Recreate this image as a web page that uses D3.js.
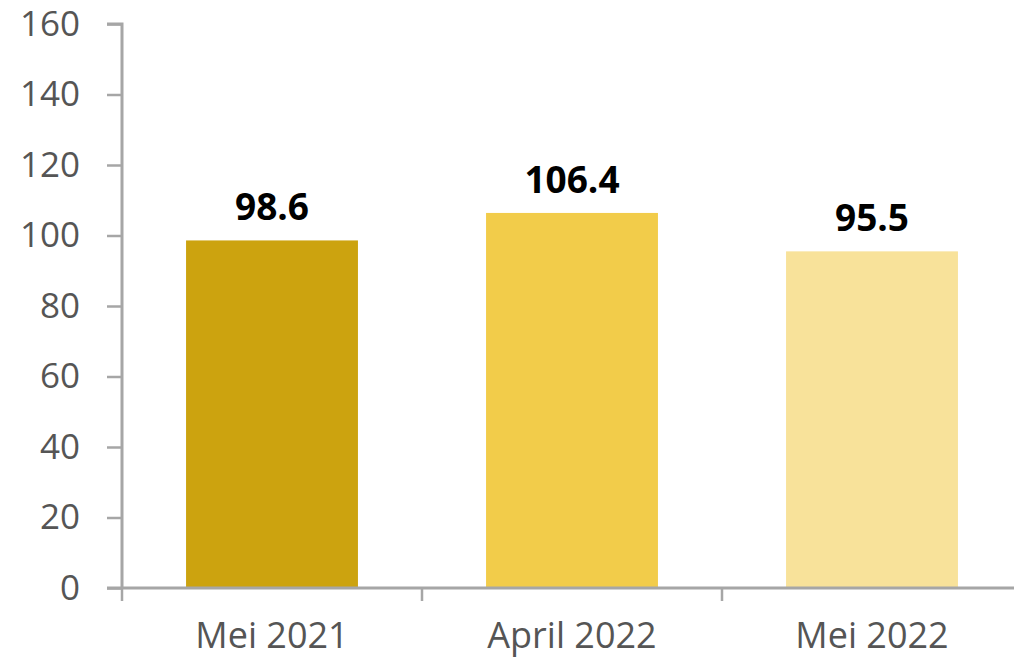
<!DOCTYPE html>
<html><head><meta charset="utf-8">
<script src="https://cdn.jsdelivr.net/npm/d3@7/dist/d3.min.js"></script>
<style>html,body{margin:0;padding:0;background:#fff;}svg{display:block;}</style>
</head><body>
<svg id="chart" width="1014" height="660"></svg>
<script>
const categories = ["Mei 2021", "April 2022", "Mei 2022"];
const values = [98.6, 106.4, 95.5];
const labels = ["98.6", "106.4", "95.5"];
const colors = ["#CCA30F", "#F2CC4A", "#F8E29A"];
const yTicks = [0, 20, 40, 60, 80, 100, 120, 140, 160];

const svg = d3.select("#chart");
const x = d3.scaleBand().domain(categories).range([122, 1022]).paddingInner(0.427).paddingOuter(0.2135);
const y = d3.scaleLinear().domain([0, 160]).range([588, 24]);
const font = "'Open Sans', sans-serif";

svg.selectAll("rect.bar").data(values).join("rect")
  .attr("class", "bar")
  .attr("x", (d, i) => x(categories[i]))
  .attr("width", x.bandwidth())
  .attr("y", d => y(d))
  .attr("height", d => y(0) - y(d))
  .attr("fill", (d, i) => colors[i]);

// y axis
const yAxis = svg.append("g").attr("transform", "translate(122,0)")
  .call(d3.axisLeft(y).tickValues(yTicks).tickSize(15).tickPadding(27));
yAxis.select(".domain").attr("stroke", "#A6A6A6").attr("stroke-width", 3).attr("d", `M-15,${y(160)}H0V${y(0)}`);
yAxis.selectAll(".tick line").attr("stroke", "#A6A6A6").attr("stroke-width", 2.5);
yAxis.selectAll(".tick text").attr("fill", "#555555").style("font-family", font).style("font-size", "35px");

// x axis
const xBounds = d3.scaleLinear().domain([0, categories.length]).range([122, 1022]);
const xg = svg.append("g").attr("transform", `translate(0,${y(0)})`);
xg.append("line").attr("x1", 107).attr("x2", 1014).attr("y1", 0).attr("y2", 0)
  .attr("stroke", "#A6A6A6").attr("stroke-width", 3);
xg.selectAll("line.tk").data(d3.range(categories.length + 1)).join("line")
  .attr("class", "tk")
  .attr("x1", d => xBounds(d)).attr("x2", d => xBounds(d))
  .attr("y1", 0).attr("y2", 13)
  .attr("stroke", "#A6A6A6").attr("stroke-width", 2.5);
xg.selectAll("text").data(categories).join("text")
  .attr("x", d => x(d) + x.bandwidth() / 2)
  .attr("y", 60)
  .attr("text-anchor", "middle")
  .attr("fill", "#555555")
  .style("font-family", font).style("font-size", "36px")
  .text(d => d);

// value labels
svg.selectAll("text.val").data(values).join("text")
  .attr("class", "val")
  .attr("x", (d, i) => x(categories[i]) + x.bandwidth() / 2)
  .attr("y", d => y(d) - 20)
  .attr("text-anchor", "middle")
  .attr("fill", "#000")
  .style("font-family", font).style("font-weight", "bold").style("font-size", "37px")
  .text((d, i) => labels[i]);
</script>
</body></html>
